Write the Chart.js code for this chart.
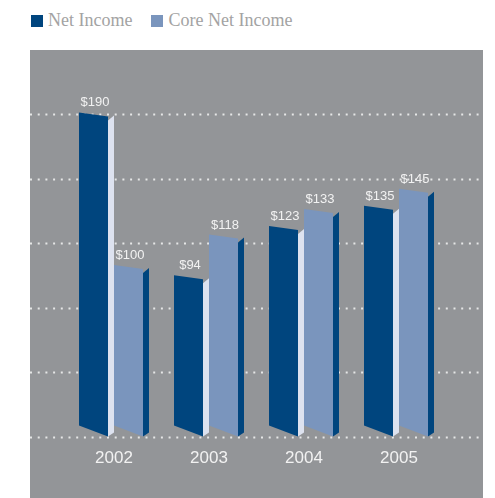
<!DOCTYPE html>
<html>
<head>
<meta charset="utf-8">
<script src="https://cdn.jsdelivr.net/npm/chart.js@4.4.0/dist/chart.umd.min.js"></script>
<style>
  html, body { margin: 0; padding: 0; background: #fff; width: 495px; height: 498px; overflow: hidden; }
  #legend {
    position: absolute; left: 31px; top: 10px;
    display: flex; align-items: center;
    font-family: "Liberation Serif", "Times New Roman", serif;
    font-size: 18px; color: #a3a3a3;
  }
  #legend .item { display: flex; align-items: center; margin-right: 19px; }
  #legend .swatch { width: 12px; height: 12px; margin-right: 5px; }
  #panel { position: absolute; left: 30px; top: 50px; width: 453px; height: 448px; background: #939598; }
</style>
</head>
<body>
<div id="legend"></div>
<div id="panel"><canvas id="chart" width="453" height="448"></canvas></div>

<script>
/* =========================
   DATA
========================= */
const years = ["2002", "2003", "2004", "2005"];
const netIncome = [190, 94, 123, 135];
const coreNetIncome = [100, 118, 133, 145];
const seriesNames = ["Net Income", "Core Net Income"];

/* =========================
   3D BAR PLUGIN
========================= */
const bars3d = {
  id: "bars3d",
  beforeDatasetsDraw(chart) {
    const y = chart.scales.y;
    const ctx = chart.ctx;
    ctx.save();
    ctx.strokeStyle = "rgba(240,240,240,0.9)";
    ctx.lineWidth = 2;
    ctx.setLineDash([2, 5.7]);
    y.ticks.forEach(t => {
      if (t.value >= y.max) return;
      const py = Math.round(y.getPixelForValue(t.value)) + 0.5;
      ctx.beginPath();
      ctx.moveTo(0, py);
      ctx.lineTo(chart.width, py);
      ctx.stroke();
    });
    ctx.restore();
  },
  beforeDatasetDraw() {
    return false;
  },
  afterDatasetsDraw(chart) {
    const ctx = chart.ctx;
    ctx.save();
    chart.data.datasets.forEach((ds, i) => {
      const meta = chart.getDatasetMeta(i);
      meta.data.forEach((bar, j) => {
        const L = bar.x - bar.width / 2;
        const R = bar.x + bar.width / 2;
        const FR = R - 6;
        const top = bar.y;
        const base = bar.base;

        // front face
        ctx.fillStyle = ds.backgroundColor;
        ctx.beginPath();
        ctx.moveTo(L, top - 2);
        ctx.lineTo(FR, top + 2);
        ctx.lineTo(FR, base);
        ctx.lineTo(L, base - 11);
        ctx.closePath();
        ctx.fill();

        // side face
        ctx.fillStyle = ds.sideColor;
        ctx.beginPath();
        ctx.moveTo(FR, top + 6);
        ctx.lineTo(R, top + 1);
        ctx.lineTo(R, base - 4);
        ctx.lineTo(FR, base);
        ctx.closePath();
        ctx.fill();

        // value label
        ctx.fillStyle = "#f2f2f2";
        ctx.font = "13px 'Liberation Sans', Arial, sans-serif";
        ctx.textAlign = "center";
        ctx.textBaseline = "alphabetic";
        ctx.fillText("$" + ds.data[j], bar.x - 1.5, top - 8);
      });
    });
    ctx.restore();
  }
};

/* =========================
   CHART
========================= */
const chart = new Chart(document.getElementById("chart"), {
  type: "bar",
  data: {
    labels: years,
    datasets: [
      { label: seriesNames[0], data: netIncome, backgroundColor: "#00457e", sideColor: "#dde2ef" },
      { label: seriesNames[1], data: coreNetIncome, backgroundColor: "#7a95bd", sideColor: "#00457e" }
    ]
  },
  options: {
    responsive: false,
    animation: false,
    categoryPercentage: 70 / 95,
    barPercentage: 1,
    layout: { padding: { left: 36.5, right: 36.5, top: 0, bottom: 17 } },
    plugins: {
      legend: { display: false },
      tooltip: { enabled: false }
    },
    scales: {
      x: {
        grid: { display: false, drawTicks: false },
        border: { display: false },
        ticks: {
          color: "#f2f2f2",
          padding: 12,
          font: { family: "'Liberation Sans', Arial, sans-serif", size: 17 }
        }
      },
      y: {
        min: 0,
        max: 228,
        grid: { display: false, drawTicks: false },
        border: { display: false },
        ticks: { display: false, stepSize: 38 }
      }
    }
  },
  plugins: [bars3d]
});

/* =========================
   LEGEND
========================= */
const legend = document.getElementById("legend");
chart.data.datasets.forEach(ds => {
  const item = document.createElement("span");
  item.className = "item";
  const sw = document.createElement("span");
  sw.className = "swatch";
  sw.style.background = ds.backgroundColor;
  const txt = document.createElement("span");
  txt.textContent = ds.label;
  item.appendChild(sw);
  item.appendChild(txt);
  legend.appendChild(item);
});
</script>
</body>
</html>
